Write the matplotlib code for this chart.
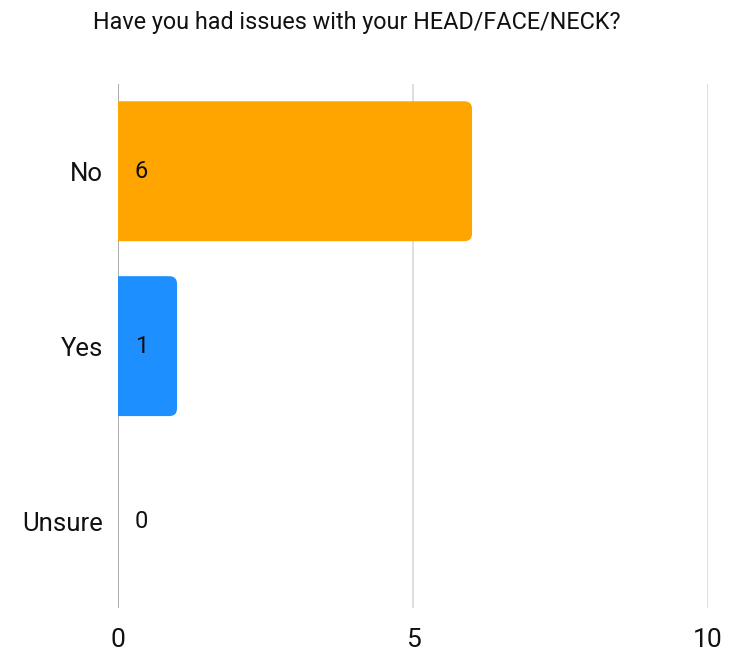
import matplotlib.pyplot as plt
from matplotlib.patches import FancyBboxPatch

plt.rcParams['font.family'] = ['Roboto', 'DejaVu Sans']

categories = ["No", "Yes", "Unsure"]
counts = [6, 1, 0]
colors = ["#FFA500", "#1E8FFF", "#999999"]
xticks = [0, 5, 10]

fig = plt.figure(figsize=(7.33, 6.51), dpi=100)
ax = fig.add_axes([0.161, 0.0653, 0.805, 0.806])

ypos = range(len(categories))
bars = ax.barh(ypos, counts, height=0.8, color=colors)
ax.set_xlim(0, 10)
ax.set_ylim(2.5, -0.5)

# rounded right ends; left side is clipped at the axis
for bar in bars:
    x, y = bar.get_x(), bar.get_y()
    w, h = bar.get_width(), bar.get_height()
    bar.set_visible(False)
    if w <= 0:
        continue
    p = FancyBboxPatch((x - 0.3, y), w + 0.3, h,
                       boxstyle="round,pad=0,rounding_size=0.13",
                       mutation_aspect=0.337,
                       facecolor=bar.get_facecolor(), edgecolor="none",
                       zorder=3)
    ax.add_patch(p)

for i, v in enumerate(counts):
    ax.annotate(str(v), (0, i), xytext=(12, 0), textcoords="offset points",
                va="center", ha="left", fontsize=17, color="#111111", zorder=4)

for t in xticks:
    ax.axvline(t, color="#9e9e9e" if t == 0 else "#d9d9d9", linewidth=1.2, zorder=1)

ax.set_xticks(xticks)
ax.set_yticks(list(ypos))
ax.set_yticklabels(categories)
ax.tick_params(axis="both", length=0, colors="#111111")
ax.tick_params(axis="y", pad=11, labelsize=18.5)
ax.tick_params(axis="x", pad=14, labelsize=19)
for s in ax.spines.values():
    s.set_visible(False)

fig.text(0.487, 0.966, "Have you had issues with your HEAD/FACE/NECK?",
         ha="center", va="center", fontsize=16.8, color="#111111")

fig.savefig("out.png", dpi=100)
